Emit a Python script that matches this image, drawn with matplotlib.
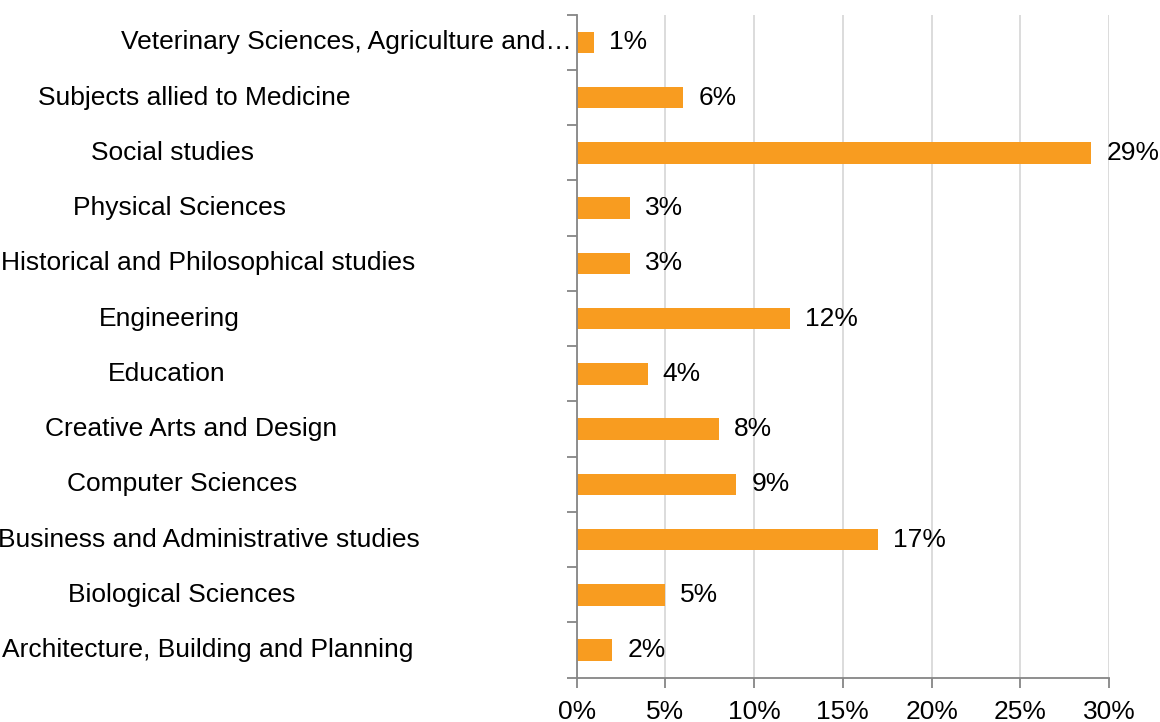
import matplotlib
matplotlib.use("Agg")
import matplotlib.pyplot as plt
from matplotlib.transforms import blended_transform_factory
from matplotlib.ticker import MultipleLocator, FuncFormatter

categories = [
    "Architecture, Building and Planning",
    "Biological Sciences",
    "Business and Administrative studies",
    "Computer Sciences",
    "Creative Arts and Design",
    "Education",
    "Engineering",
    "Historical and Philosophical studies",
    "Physical Sciences",
    "Social studies",
    "Subjects allied to Medicine",
    "Veterinary Sciences, Agriculture and\u2026",
]
values = [2, 5, 17, 9, 8, 4, 12, 3, 3, 29, 6, 1]
x_ticks = [0, 5, 10, 15, 20, 25, 30]

plt.rcParams['font.family'] = ['Liberation Sans', 'DejaVu Sans']
FS = 19
BAR = '#F89C20'
SPINE = '#868686'
GRID = '#D9D9D9'

W, H = 1160, 722
fig = plt.figure(figsize=(W / 100, H / 100), dpi=100)
ax = fig.add_axes([576.7 / W, (H - 677.7) / H, (1109 - 576.7) / W, (677.7 - 14.7) / H])

n = len(categories)
ypos = list(range(n))
ax.barh(ypos, values, height=0.39, color=BAR, zorder=3)

ax.set_xlim(x_ticks[0], x_ticks[-1])
ax.set_ylim(-0.5, n - 0.5)
ax.xaxis.set_major_locator(MultipleLocator(5))
ax.xaxis.set_major_formatter(FuncFormatter(lambda v, p: f"{int(round(v))}%"))
ax.tick_params(axis='x', length=7, width=1.3, color=SPINE, labelsize=FS, pad=9)
ax.grid(axis='x', color=GRID, linewidth=1.3, zorder=0)
ax.set_axisbelow(True)

# category boundary ticks on y axis
ax.set_yticks([i - 0.5 for i in range(n + 1)])
ax.set_yticklabels([])
ax.tick_params(axis='y', length=7, width=1.3, color=SPINE)

for s in ['top', 'right']:
    ax.spines[s].set_visible(False)
for s in ['left', 'bottom']:
    ax.spines[s].set_color(SPINE)
    ax.spines[s].set_linewidth(1.3)
    ax.spines[s].set_zorder(4)

# category labels (Excel-like label placement in the label area)
tr = blended_transform_factory(fig.transFigure, ax.transData)
texts = []
for i, cat in enumerate(categories):
    if cat.endswith('\u2026'):
        fig.text(572 / W, i, cat, transform=tr, ha='right', va='center', fontsize=FS)
    else:
        t = fig.text(0, i, cat, transform=tr, ha='left', va='center', fontsize=FS)
        texts.append(t)

fig.canvas.draw()
renderer = fig.canvas.get_renderer()
for t in texts:
    w = t.get_window_extent(renderer).width
    t.set_x((150 - 0.36 * w) / W)

# data labels
for i, v in enumerate(values):
    ax.annotate(f"{v}%", xy=(v, i), xytext=(15, 0), textcoords='offset pixels',
                ha='left', va='center', fontsize=FS, annotation_clip=False)

fig.savefig('out.png', dpi=100)
